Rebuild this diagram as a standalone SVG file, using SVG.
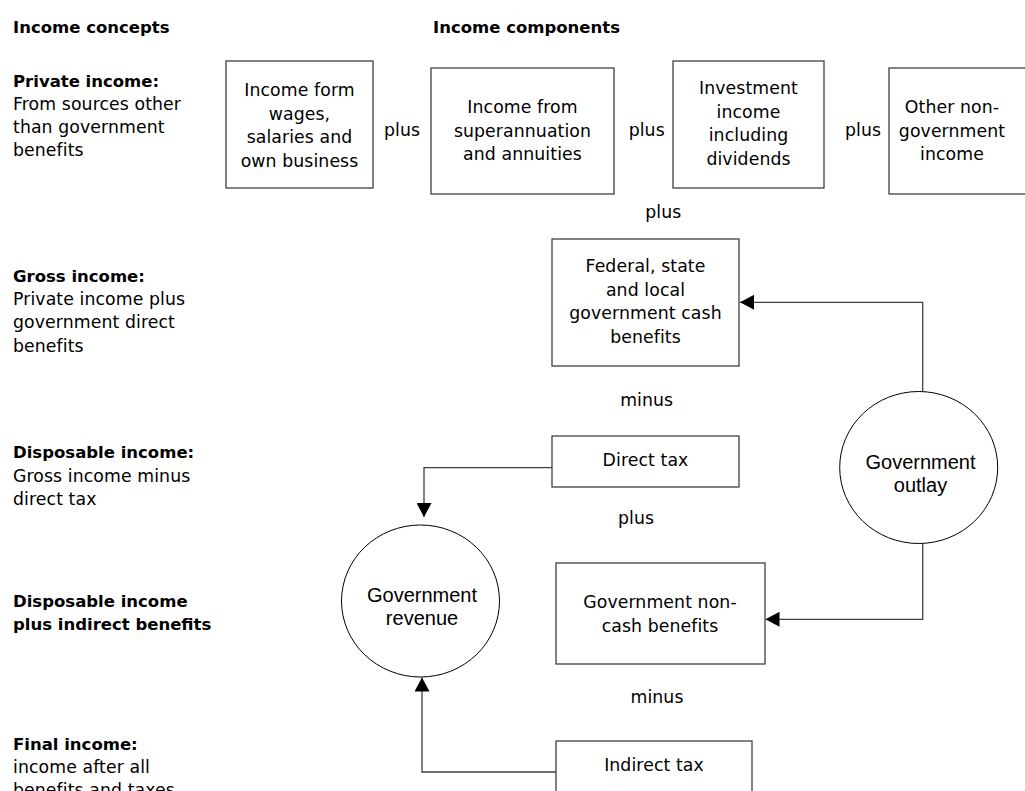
<svg xmlns="http://www.w3.org/2000/svg" width="1025" height="791" viewBox="0 0 1025 791">
<style>
text{font-family:"DejaVu Sans","Verdana",sans-serif;font-size:17.3px;fill:#000;letter-spacing:0.1px}
.b{font-weight:bold;font-size:16.5px;letter-spacing:0}
.c{text-anchor:middle}
.o{font-family:"Liberation Sans","Arial",sans-serif;font-size:20px;letter-spacing:0;text-anchor:middle}
.box{fill:#fff;stroke:#404040;stroke-width:1.3}
.circ{fill:#fff;stroke:#000;stroke-width:1}
.con{fill:none;stroke:#404040;stroke-width:1.3}
</style>
<defs>
<marker id="arr" viewBox="0 0 14 15" refX="14" refY="7.5" markerWidth="14" markerHeight="15" markerUnits="userSpaceOnUse" orient="auto">
<path d="M0,0 L14,7.5 L0,15 z" fill="#000"/>
</marker>
</defs>
<rect width="1025" height="791" fill="#fff"/>

<g id="headers">
<text class="b" x="13" y="33">Income concepts</text>
<text class="b" x="433" y="33">Income components</text>
</g>

<g id="concepts">
<text x="13" y="87"><tspan class="b">Private income:</tspan><tspan x="13" y="110">From sources other</tspan><tspan x="13" y="133">than government</tspan><tspan x="13" y="156">benefits</tspan></text>
<text x="13" y="281.5"><tspan class="b">Gross income:</tspan><tspan x="13" y="305">Private income plus</tspan><tspan x="13" y="328.3">government direct</tspan><tspan x="13" y="351.7">benefits</tspan></text>
<text x="13" y="458"><tspan class="b">Disposable income:</tspan><tspan x="13" y="481.5">Gross income minus</tspan><tspan x="13" y="504.8">direct tax</tspan></text>
<text class="b" x="13" y="606.8">Disposable income<tspan x="13" y="630.2">plus indirect benefits</tspan></text>
<text x="13" y="749.6"><tspan class="b">Final income:</tspan><tspan x="13" y="773">income after all</tspan><tspan x="13" y="796.4">benefits and taxes</tspan></text>
</g>

<g id="connectors">
<path class="con" d="M552,467.7 H424 V517" marker-end="url(#arr)"/>
<path class="con" d="M556,772 H422 V677.5" marker-end="url(#arr)"/>
<path class="con" d="M922.7,391.7 V302.3 H740" marker-end="url(#arr)"/>
<path class="con" d="M922.7,543.3 V619.3 H765.5" marker-end="url(#arr)"/>
</g>

<g id="box-wages">
<rect class="box" x="226" y="61" width="147" height="127"/>
<text class="c" x="299.5" y="96">Income form<tspan x="299.5" y="119.5">wages,</tspan><tspan x="299.5" y="143">salaries and</tspan><tspan x="299.5" y="166.5">own business</tspan></text>
</g>
<g id="box-super">
<rect class="box" x="431" y="68" width="183" height="126"/>
<text class="c" x="522.5" y="113">Income from<tspan x="522.5" y="136.5">superannuation</tspan><tspan x="522.5" y="160">and annuities</tspan></text>
</g>
<g id="box-invest">
<rect class="box" x="673" y="61" width="151" height="127"/>
<text class="c" x="748.5" y="94">Investment<tspan x="748.5" y="117.5">income</tspan><tspan x="748.5" y="141">including</tspan><tspan x="748.5" y="164.5">dividends</tspan></text>
</g>
<g id="box-other">
<rect class="box" x="889" y="68" width="145" height="126"/>
<text class="c" x="952" y="113">Other non-<tspan x="952" y="136.5">government</tspan><tspan x="952" y="160">income</tspan></text>
</g>

<g id="ops">
<text class="c" x="402" y="136">plus</text>
<text class="c" x="646.7" y="136">plus</text>
<text class="c" x="863" y="136">plus</text>
<text class="c" x="663.3" y="218">plus</text>
<text class="c" x="646.7" y="406">minus</text>
<text class="c" x="636" y="523.5">plus</text>
<text class="c" x="657" y="702.5">minus</text>
</g>

<g id="box-cash">
<rect class="box" x="552" y="239" width="187" height="127"/>
<text class="c" x="645.5" y="272">Federal, state<tspan x="645.5" y="295.5">and local</tspan><tspan x="645.5" y="319">government cash</tspan><tspan x="645.5" y="342.5">benefits</tspan></text>
</g>
<g id="box-directtax">
<rect class="box" x="552" y="436" width="187" height="51"/>
<text class="c" x="645.5" y="466">Direct tax</text>
</g>
<g id="box-noncash">
<rect class="box" x="556" y="563" width="209" height="101"/>
<text class="c" x="660" y="608">Government non-<tspan x="660" y="631.5">cash benefits</tspan></text>
</g>
<g id="box-indirecttax">
<rect class="box" x="556" y="741" width="196" height="70"/>
<text class="c" x="654" y="770.5">Indirect tax</text>
</g>

<g id="circle-revenue">
<ellipse class="circ" cx="420.5" cy="601" rx="79" ry="76"/>
<text class="o" x="422" y="602">Government<tspan x="422" y="625">revenue</tspan></text>
</g>
<g id="circle-outlay">
<ellipse class="circ" cx="918.7" cy="467.5" rx="79" ry="76"/>
<text class="o" x="920.5" y="468.5">Government<tspan x="920.5" y="491.5">outlay</tspan></text>
</g>
</svg>
